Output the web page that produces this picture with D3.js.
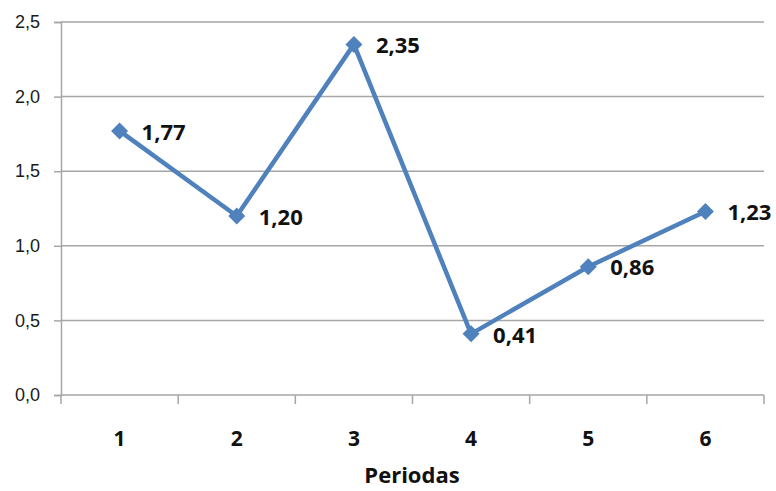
<!DOCTYPE html>
<html>
<head>
<meta charset="utf-8">
<script src="https://cdn.jsdelivr.net/npm/d3@7"></script>
<style>
  html, body { margin: 0; padding: 0; background: #fff; }
  svg { display: block; font-family: "Open Sans", "Liberation Sans", sans-serif; }
</style>
</head>
<body>
<svg id="chart" width="776" height="491"></svg>
<script>
// Period numbers and the measured value for each period
const periods = ["1", "2", "3", "4", "5", "6"];
const values = [1.77, 1.20, 2.35, 0.41, 0.86, 1.23];
const yTicks = [0, 0.5, 1.0, 1.5, 2.0, 2.5];
const xTitle = "Periodas";

const fmt = v => d3.format(".2f")(v).replace(".", ",");
const fmtTick = v => d3.format(".1f")(v).replace(".", ",");

const svg = d3.select("#chart");
const plot = { left: 61, right: 764, top: 22, bottom: 395 };
const gridColor = "#a6a6a6";
const lineColor = "#4f81bd";

const x = d3.scaleBand().domain(periods).range([plot.left, plot.right]).padding(0);
const y = d3.scaleLinear().domain([0, 2.5]).range([plot.bottom, plot.top]);

// horizontal gridlines
svg.append("g")
  .selectAll("line")
  .data(yTicks.filter(t => t > 0))
  .join("line")
  .attr("x1", plot.left).attr("x2", plot.right)
  .attr("y1", d => y(d)).attr("y2", d => y(d))
  .attr("stroke", gridColor).attr("stroke-width", 1.5);

// y axis
const yAxis = svg.append("g")
  .attr("transform", `translate(${plot.left},0)`)
  .call(d3.axisLeft(y).tickValues(yTicks).tickFormat(fmtTick).tickSize(7).tickPadding(14));
yAxis.select(".domain").attr("stroke", gridColor).attr("stroke-width", 1.5);
yAxis.selectAll(".tick line").attr("stroke", gridColor).attr("stroke-width", 1.5);
yAxis.selectAll("text").attr("font-size", 18).attr("fill", "#1a1a1a");

// x axis: ticks sit on category boundaries, labels centred in each band
const xAxisG = svg.append("g").attr("transform", `translate(0,${plot.bottom})`);
xAxisG.append("line")
  .attr("x1", plot.left).attr("x2", plot.right)
  .attr("stroke", gridColor).attr("stroke-width", 1.5);
const boundaries = periods.map(p => x(p)).concat([x(periods[periods.length - 1]) + x.bandwidth()]);
xAxisG.selectAll("line.tk")
  .data(boundaries)
  .join("line")
  .attr("class", "tk")
  .attr("x1", d => d).attr("x2", d => d)
  .attr("y1", 0).attr("y2", 9)
  .attr("stroke", gridColor).attr("stroke-width", 1.5);
xAxisG.selectAll("text")
  .data(periods)
  .join("text")
  .attr("x", d => x(d) + x.bandwidth() / 2)
  .attr("y", 51)
  .attr("text-anchor", "middle")
  .attr("font-size", 21).attr("font-weight", "bold").attr("fill", "#111")
  .text(d => d);

// axis title
svg.append("text")
  .attr("x", 412)
  .attr("y", 483)
  .attr("text-anchor", "middle")
  .attr("font-size", 22).attr("font-weight", "bold").attr("fill", "#111")
  .text(xTitle);

const pts = periods.map((p, i) => ({ p, v: values[i] }));
const cx = d => x(d.p) + x.bandwidth() / 2;

// series line
svg.append("path")
  .datum(pts)
  .attr("fill", "none")
  .attr("stroke", lineColor)
  .attr("stroke-width", 4.5)
  .attr("stroke-linejoin", "round")
  .attr("d", d3.line().x(cx).y(d => y(d.v)));

// diamond markers
svg.append("g")
  .selectAll("path")
  .data(pts)
  .join("path")
  .attr("transform", d => `translate(${cx(d)},${y(d.v)})`)
  .attr("d", "M0,-8.5L8.5,0L0,8.5L-8.5,0Z")
  .attr("fill", lineColor);

// value labels
svg.append("g")
  .selectAll("text")
  .data(pts)
  .join("text")
  .attr("x", d => cx(d) + 22)
  .attr("y", d => y(d.v))
  .attr("dy", "0.4em")
  .attr("font-size", 22).attr("font-weight", "bold").attr("fill", "#111")
  .text(d => fmt(d.v));
</script>
</body>
</html>
